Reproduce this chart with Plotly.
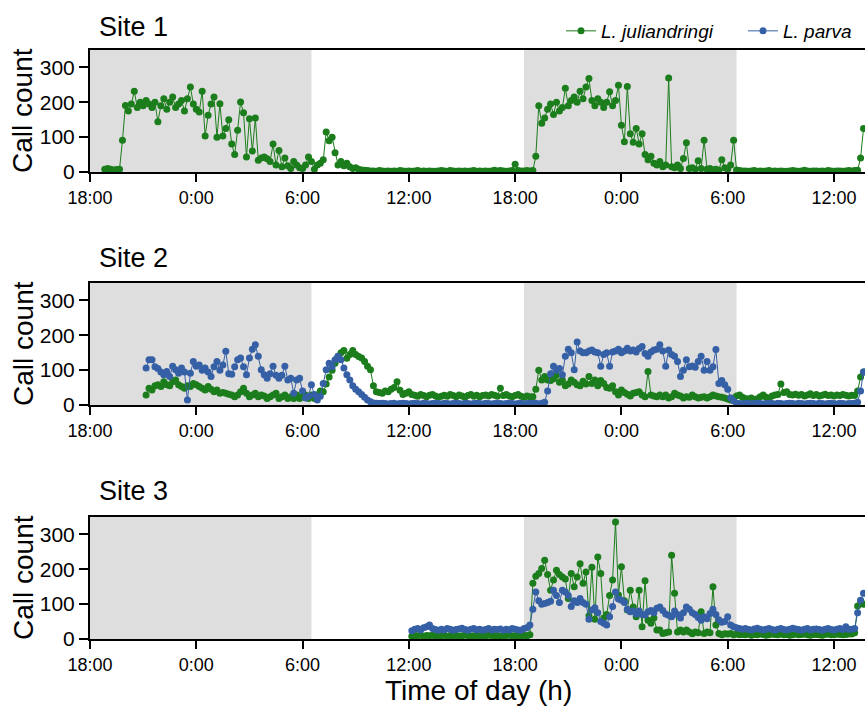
import pandas as pd
import plotly.graph_objects as go

# ---------------- data (call counts every 10 min) ----------------
site1_juli_start = "2021-01-01 18:50"
site1_juli = [
    8,
    10, 8, 6, 7, 8, 91,
    191, 175, 195, 232, 185, 200,
    190, 205, 195, 185, 200, 144,
    190, 210, 180, 200, 215, 185,
    195, 205, 175, 210, 244, 195,
    180, 172, 232, 103, 163, 195,
    215, 100, 196, 103, 125, 150,
    80, 50, 120, 201, 170, 43,
    153, 60, 155, 34, 40, 43,
    38, 30, 80, 20, 62, 15,
    40, 18, 10, 30, 20, 12,
    10, 20, 43, 30, 8, 20,
    25, 35, 115, 90, 100, 55,
    20, 30, 18, 25, 15, 10,
    12, 8, 6, 5, 4, 3,
    3, 2, 4, 3, 2, 3,
    2, 3, 2, 4, 3, 2,
    3, 2, 3, 4, 2, 3,
    2, 3, 2, 2, 3, 4,
    3, 2, 4, 3, 2, 3,
    2, 3, 2, 3, 4, 2,
    3, 2, 3, 2, 3, 5,
    3, 4, 3, 2, 3, 4,
    22, 4, 3, 3, 4, 3,
    4, 45, 190, 140, 155, 180,
    195, 165, 200, 175, 185, 240,
    190, 205, 215, 200, 232, 210,
    244, 268, 205, 190, 210, 200,
    185, 200, 230, 190, 205, 249,
    134, 87, 245, 110, 85, 125,
    80, 110, 50, 35, 45, 25,
    20, 30, 15, 20, 270, 15,
    12, 20, 10, 39, 84, 10,
    12, 8, 32, 10, 91, 8,
    10, 6, 8, 5, 35, 12,
    8, 20, 91, 6, 4, 3,
    3, 2, 3, 4, 2, 3,
    2, 3, 4, 2, 3, 2,
    3, 2, 2, 3, 4, 3,
    2, 3, 5, 3, 2, 3,
    3, 2, 3, 2, 4, 3,
    2, 3, 3, 2, 3, 4,
    3, 4, 5, 40, 125,
]

site2_start = "2021-01-01 21:10"
site2_juli = [
    29, 48, 43, 55, 58,
    53, 67, 58, 55, 67, 72,
    58, 53, 48, 55, 53, 62,
    58, 53, 48, 43, 53, 45,
    38, 43, 34, 36, 34, 31,
    29, 24, 29, 38, 48, 34,
    24, 29, 34, 24, 29, 26,
    19, 24, 29, 34, 19, 24,
    29, 19, 24, 19, 29, 19,
    24, 29, 19, 29, 19, 29,
    40, 38, 60, 80, 100, 120,
    140, 150, 156, 134, 145, 156,
    145, 139, 135, 125, 111, 101,
    55, 38, 36, 34, 40, 38,
    45, 50, 67, 42, 30, 34,
    38, 30, 28, 25, 30, 27,
    24, 28, 30, 26, 22, 25,
    28, 25, 30, 27, 24, 29,
    26, 22, 27, 30, 25, 28,
    24, 27, 29, 26, 30, 28,
    25, 48, 27, 30, 26, 24,
    27, 30, 25, 22, 26, 24,
    24, 45, 100, 72, 82, 72,
    70, 75, 86, 65, 72, 55,
    60, 72, 65, 58, 55, 68,
    60, 82, 62, 72, 55, 70,
    62, 50, 48, 55, 38, 29,
    43, 36, 31, 26, 34, 36,
    38, 29, 24, 96, 29, 26,
    24, 29, 24, 29, 20, 24,
    34, 29, 26, 20, 24, 22,
    29, 24, 20, 22, 24, 20,
    24, 29, 26, 24, 22, 20,
    17, 14, 20, 26, 29, 22,
    19, 17, 20, 14, 18, 24,
    29, 22, 19, 26, 29, 30,
    60, 36, 38, 30, 29, 31,
    28, 30, 26, 29, 32, 27,
    30, 26, 28, 31, 27, 29,
    26, 29, 27, 30, 28, 26,
    28, 27, 40, 80, 95,
]
site2_parva = [
    106, 130, 130, 110, 105,
    95, 87, 96, 82, 111, 101,
    91, 106, 95, 14, 91, 125,
    111, 115, 100, 106, 95, 82,
    110, 125, 100, 115, 154, 90,
    88, 110, 130, 135, 110, 87,
    135, 160, 173, 140, 101, 87,
    77, 90, 111, 85, 77, 85,
    111, 72, 77, 34, 72, 77,
    40, 20, 25, 58, 30, 14,
    25, 62, 101, 120, 110, 130,
    140, 130, 106, 87, 72, 55,
    45, 38, 30, 22, 14, 9,
    6, 5, 4, 5, 4, 3,
    4, 5, 3, 4, 5, 4,
    3, 4, 5, 4, 3, 5,
    4, 3, 4, 5, 4, 3,
    5, 4, 3, 4, 5, 4,
    3, 5, 4, 3, 4, 5,
    4, 3, 5, 4, 3, 4,
    5, 4, 3, 4, 5, 4,
    3, 4, 5, 3, 4, 5,
    4, 5, 3, 5, 8, 40,
    90, 111, 100, 105, 87, 140,
    160, 150, 101, 181, 155, 150,
    150, 155, 158, 152, 150, 111,
    145, 150, 111, 152, 155, 160,
    150, 155, 163, 155, 158, 152,
    162, 168, 148, 140, 152, 158,
    160, 173, 155, 111, 158, 145,
    140, 125, 82, 100, 130, 110,
    112, 108, 125, 140, 100, 125,
    100, 110, 159, 62, 70, 58,
    45, 20, 12, 5, 4, 3,
    4, 5, 3, 4, 5, 4,
    3, 4, 5, 4, 3, 5,
    4, 3, 4, 5, 4, 3,
    5, 4, 3, 4, 5, 4,
    3, 5, 4, 3, 4, 5,
    4, 3, 5, 4, 3, 4,
    4, 5, 8, 40, 95,
]

site3_start = "2021-01-02 12:10"
site3_juli = [
    8, 10, 9, 11, 8,
    10, 9, 11, 8, 10, 9,
    11, 8, 10, 9, 10, 8,
    9, 11, 10, 8, 9, 10,
    8, 10, 9, 11, 10, 9,
    10, 8, 9, 10, 11, 9,
    9, 10, 8, 11, 9, 12,
    160, 180, 188, 202, 226, 185,
    140, 169, 197, 185, 178, 172,
    116, 188, 150, 178, 216, 160,
    192, 67, 206, 57, 235, 188,
    60, 70, 125, 169, 336, 126,
    207, 110, 83, 140, 92, 64,
    140, 35, 167, 54, 45, 60,
    26, 26, 16, 18, 20, 240,
    131, 20, 26, 20, 26, 20,
    15, 20, 18, 78, 16, 20,
    18, 150, 40, 16, 12, 15,
    14, 16, 12, 14, 12, 13,
    12, 14, 11, 13, 12, 14,
    13, 11, 12, 14, 13, 12,
    14, 12, 13, 11, 12, 14,
    12, 13, 14, 12, 11, 13,
    13, 12, 11, 13, 14, 12,
    12, 14, 13, 12, 13, 14,
    14, 18, 95, 110, 100,
]
site3_parva = [
    24, 28, 30, 26, 32,
    35, 40, 30, 27, 25, 28,
    26, 30, 28, 25, 27, 29,
    31, 27, 25, 28, 30, 26,
    28, 25, 27, 30, 26, 28,
    27, 29, 25, 28, 26, 30,
    28, 26, 25, 30, 32, 40,
    85, 135, 110, 100, 102, 105,
    108, 140, 125, 105, 140, 135,
    125, 93, 110, 105, 116, 105,
    100, 57, 83, 90, 75, 50,
    45, 40, 64, 93, 135, 115,
    111, 105, 85, 78, 80, 72,
    80, 70, 69, 78, 82, 75,
    88, 92, 82, 72, 68, 64,
    80, 70, 60, 75, 92, 85,
    75, 70, 62, 54, 64, 58,
    73, 85, 70, 55, 48, 50,
    64, 40, 35, 32, 30, 28,
    30, 27, 26, 29, 31, 28,
    26, 28, 30, 27, 25, 28,
    30, 27, 26, 28, 31, 29,
    27, 25, 28, 30, 26, 28,
    29, 27, 25, 28, 30, 27,
    26, 28, 30, 27, 35, 28,
    28, 30, 75, 111, 131,
]

night_starts = ["2021-01-01 18:00", "2021-01-02 18:30"]
night_ends = ["2021-01-02 06:30", "2021-01-03 06:30"]

tick_vals = ["2021-01-01 18:00", "2021-01-02 00:00", "2021-01-02 06:00",
             "2021-01-02 12:00", "2021-01-02 18:00", "2021-01-03 00:00",
             "2021-01-03 06:00", "2021-01-03 12:00"]
tick_text = ["18:00", "0:00", "6:00", "12:00", "18:00", "0:00", "6:00", "12:00"]
x_range = ["2021-01-01 18:00", "2021-01-03 13:45"]
y_ticks = [0, 100, 200, 300]

GREEN = "#1b7d1b"
BLUE = "#3560a6"
FONT = "Liberation Sans, Arial, sans-serif"


def ts(start, n):
    return pd.date_range(pd.Timestamp(start), periods=n, freq="10min")


W, H = 865, 715
L, R, T, B = 90, 0, 50, 715 - 639
ph = H - T - B
pw = W - L - R
plots = [(50, 172), (283, 405), (517, 639)]  # top/bottom px of panels


def py(y_ref):               # page pixel y -> paper fraction
    return (H - B - y_ref) / ph


def px(x_ref):               # page pixel x -> paper fraction
    return (x_ref - L) / pw


fig = go.Figure()

series = [
    (1, site1_juli_start, site1_juli, "<i>L. juliandringi</i>", GREEN, True, "legend"),
    (2, site2_start, site2_juli, "<i>L. juliandringi</i>", GREEN, False, "legend"),
    (2, site2_start, site2_parva, "<i>L. parva</i>", BLUE, True, "legend2"),
    (3, site3_start, site3_juli, "<i>L. juliandringi</i>", GREEN, False, "legend"),
    (3, site3_start, site3_parva, "<i>L. parva</i>", BLUE, False, "legend2"),
]
for panel, start, vals, name, col, show, leg in series:
    ax = "" if panel == 1 else str(panel)
    fig.add_trace(go.Scatter(
        x=ts(start, len(vals)), y=vals, mode="lines+markers", name=name,
        line=dict(color=col, width=1), marker=dict(color=col, size=7),
        showlegend=show, legend=leg,
        xaxis="x" + ax, yaxis="y" + ax,
    ))

leg_common = dict(orientation="h", xanchor="left", yanchor="middle",
                  y=py(31), font=dict(size=19), bgcolor="rgba(0,0,0,0)",
                  itemwidth=30, borderwidth=0)
layout = dict(
    width=W, height=H,
    margin=dict(l=L, r=R, t=T, b=B, autoexpand=False),
    plot_bgcolor="white", paper_bgcolor="white",
    font=dict(family=FONT, color="black", size=18),
    showlegend=True,
    legend=dict(x=px(561), **leg_common),
    legend2=dict(x=px(743), **leg_common),
)
for i, (top, bot) in enumerate(plots, start=1):
    s = "" if i == 1 else str(i)
    layout["xaxis" + s] = dict(
        domain=[0, 1], range=x_range, type="date", anchor="y" + s,
        tickvals=tick_vals, ticktext=tick_text, ticks="outside", ticklen=8,
        tickwidth=2, tickcolor="black", showline=True, linecolor="black",
        linewidth=2, mirror=True, showgrid=False, zeroline=False,
        tickfont=dict(size=18, family=FONT), automargin=False,
    )
    layout["yaxis" + s] = dict(
        domain=[py(bot), py(top)], range=[0, 350], anchor="x" + s,
        tickvals=y_ticks, ticks="outside", ticklen=9, tickwidth=2,
        tickcolor="black", showline=True, linecolor="black", linewidth=2,
        showgrid=False, zeroline=False, tickfont=dict(size=21, family=FONT),
        automargin=False,
    )
fig.update_layout(**layout)

shapes = []
for i in range(1, 4):
    s = "" if i == 1 else str(i)
    for a, b in zip(night_starts, night_ends):
        shapes.append(dict(type="rect", xref="x" + s, yref="y" + s + " domain",
                           x0=a, x1=b, y0=0, y1=1, fillcolor="#dedede",
                           line=dict(width=0), layer="below"))
fig.update_layout(shapes=shapes)

ann = []
titles = ["Site 1", "Site 2", "Site 3"]
title_y = [27, 258, 491]
for (top, bot), t, ty in zip(plots, titles, title_y):
    ann.append(dict(text=t, xref="paper", yref="paper", x=px(97),
                    y=py(ty), xanchor="left", yanchor="middle",
                    showarrow=False, font=dict(size=27, family=FONT)))
    ann.append(dict(text="Call count", xref="paper", yref="paper",
                    x=px(23), y=py((top + bot) / 2),
                    xanchor="center", yanchor="middle", textangle=-90,
                    showarrow=False, font=dict(size=28, family=FONT)))
ann.append(dict(text="Time of day (h)", xref="paper", yref="paper",
                x=px(478), y=py(690),
                xanchor="center", yanchor="middle", showarrow=False,
                font=dict(size=28, family=FONT)))
fig.update_layout(annotations=ann)

fig.write_html("out.html",
               config={"displayModeBar": False},
               post_script="document.body.style.margin='0px';"
                           "document.body.style.overflow='hidden';")
